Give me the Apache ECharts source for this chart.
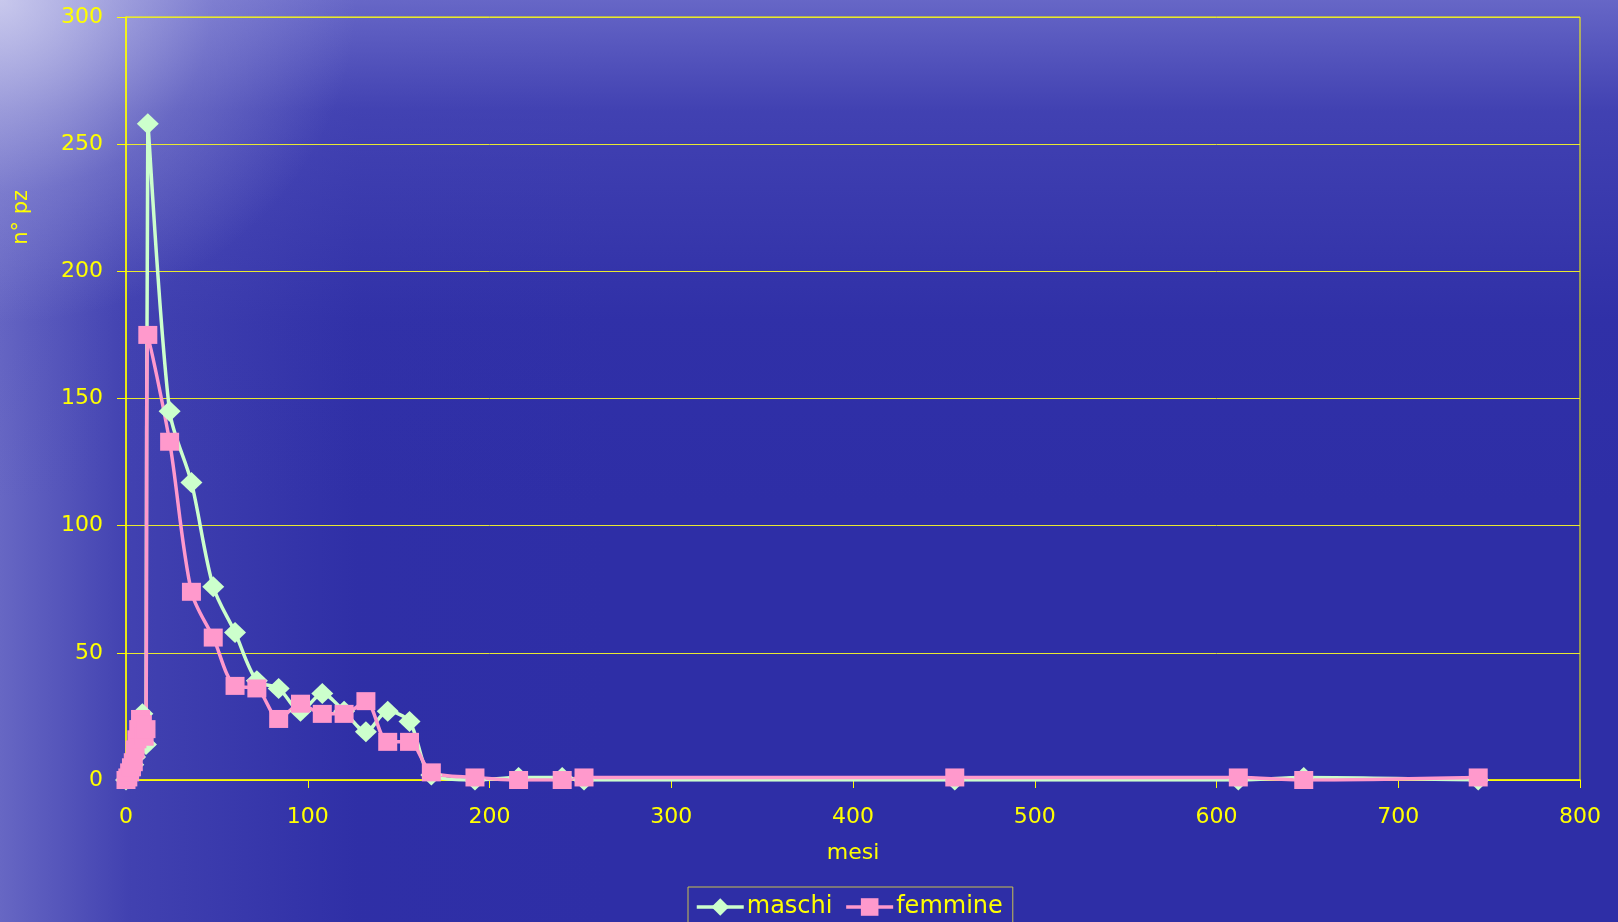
<!DOCTYPE html>
<html>
<head>
<meta charset="utf-8">
<script src="https://cdn.jsdelivr.net/npm/echarts@6/dist/echarts.min.js"></script>
<style>
html,body{margin:0;padding:0;}
body{width:1618px;height:922px;overflow:hidden;
background:
 radial-gradient(ellipse 22% 35% at 0% 0%, rgba(225,225,245,0.75) 0%, rgba(170,170,225,0.3) 60%, rgba(80,80,180,0) 100%),
 linear-gradient(180deg, rgba(140,140,220,0.6) 0%, rgba(110,110,205,0.3) 12%, rgba(70,70,180,0.08) 35%, rgba(40,40,160,0) 55%),
 linear-gradient(90deg, rgba(150,150,220,0.55) 0%, rgba(110,110,200,0.3) 8%, rgba(60,60,170,0.08) 22%, rgba(0,0,0,0) 38%),
 #2e2ea6;}
#chart{width:1618px;height:922px;}
</style>
</head>
<body>
<div id="chart"></div>
<script>
// ---- data ----
var months   = [0,1,2,3,4,5,6,7,8,9,10,11,12,24,36,48,60,72,84,96,108,120,132,144,156,168,192,216,240,252,456,612,648,744];
var maschi   = [0,1,2,4,6,9,13,18,23,26,20,14,258,145,117,76,58,39,36,27,34,27,19,27,23,2,0,1,1,0,0,0,1,0];
var femmine  = [0,1,3,5,7,12,16,20,24,22,17,20,175,133,74,56,37,36,24,30,26,26,31,15,15,3,1,0,0,1,1,1,0,1];
var xTicks   = {min:0, max:800, step:100};
var yTicks   = {min:0, max:300, step:50};
var seriesNames = ['maschi','femmine'];
var xName = 'mesi';
var yName = 'n° pz';

function pairs(xs, ys){ return xs.map(function(x,i){return [x, ys[i]];}); }

var FONT = 'DejaVu Sans';
var YEL = '#ffff00';
var chart = echarts.init(document.getElementById('chart'), null, {renderer:'canvas'});
chart.setOption({
  backgroundColor: 'transparent',
  animation: false,
  grid: {left:126, right:38, top:17, bottom:142, show:true, borderColor:YEL, borderWidth:1, backgroundColor:'transparent'},
  xAxis: {
    type:'value', min:xTicks.min, max:xTicks.max, interval:xTicks.step,
    name:xName, nameLocation:'middle', nameGap:62,
    nameTextStyle:{color:YEL, fontFamily:FONT, fontSize:22},
    axisLine:{show:true, onZero:false, lineStyle:{color:YEL, width:1.5}},
    axisTick:{show:true, length:8, lineStyle:{color:YEL}},
    axisLabel:{color:YEL, fontFamily:FONT, fontSize:22, margin:26},
    splitLine:{show:false}
  },
  yAxis: {
    type:'value', min:yTicks.min, max:yTicks.max, interval:yTicks.step,
    axisLine:{show:true, lineStyle:{color:YEL, width:1.5}},
    axisTick:{show:true, length:9, lineStyle:{color:YEL}},
    axisLabel:{color:YEL, fontFamily:FONT, fontSize:22, margin:23},
    splitLine:{show:true, lineStyle:{color:'#e8e830', width:1}}
  },
  legend: {
    data: seriesNames, left:688, top:887, orient:'horizontal',
    borderColor:'#c8c050', borderWidth:1, padding:[8,10,8,7],
    itemWidth:47, itemHeight:22, itemGap:12,
    lineStyle:{width:3.5},
    textStyle:{color:YEL, fontFamily:FONT, fontSize:24, padding:[0,0,0,-2]}
  },
  graphic: [{
    type:'text', left:11, top:190, rotation:Math.PI/2,
    style:{text:yName, fill:YEL, font:'21px "DejaVu Sans"'}
  }],
  series: [
    {name:seriesNames[0], type:'line', data:pairs(months, maschi), smooth:0.3,
     symbol:'diamond', symbolSize:[22,21],
     lineStyle:{color:'#ccffcc', width:3.5}, itemStyle:{color:'#ccffcc'}},
    {name:seriesNames[1], type:'line', data:pairs(months, femmine), smooth:0.3,
     symbol:'rect', symbolSize:[19,18],
     lineStyle:{color:'#ff99cc', width:3.5}, itemStyle:{color:'#ff99cc'}}
  ]
});
</script>
</body>
</html>
